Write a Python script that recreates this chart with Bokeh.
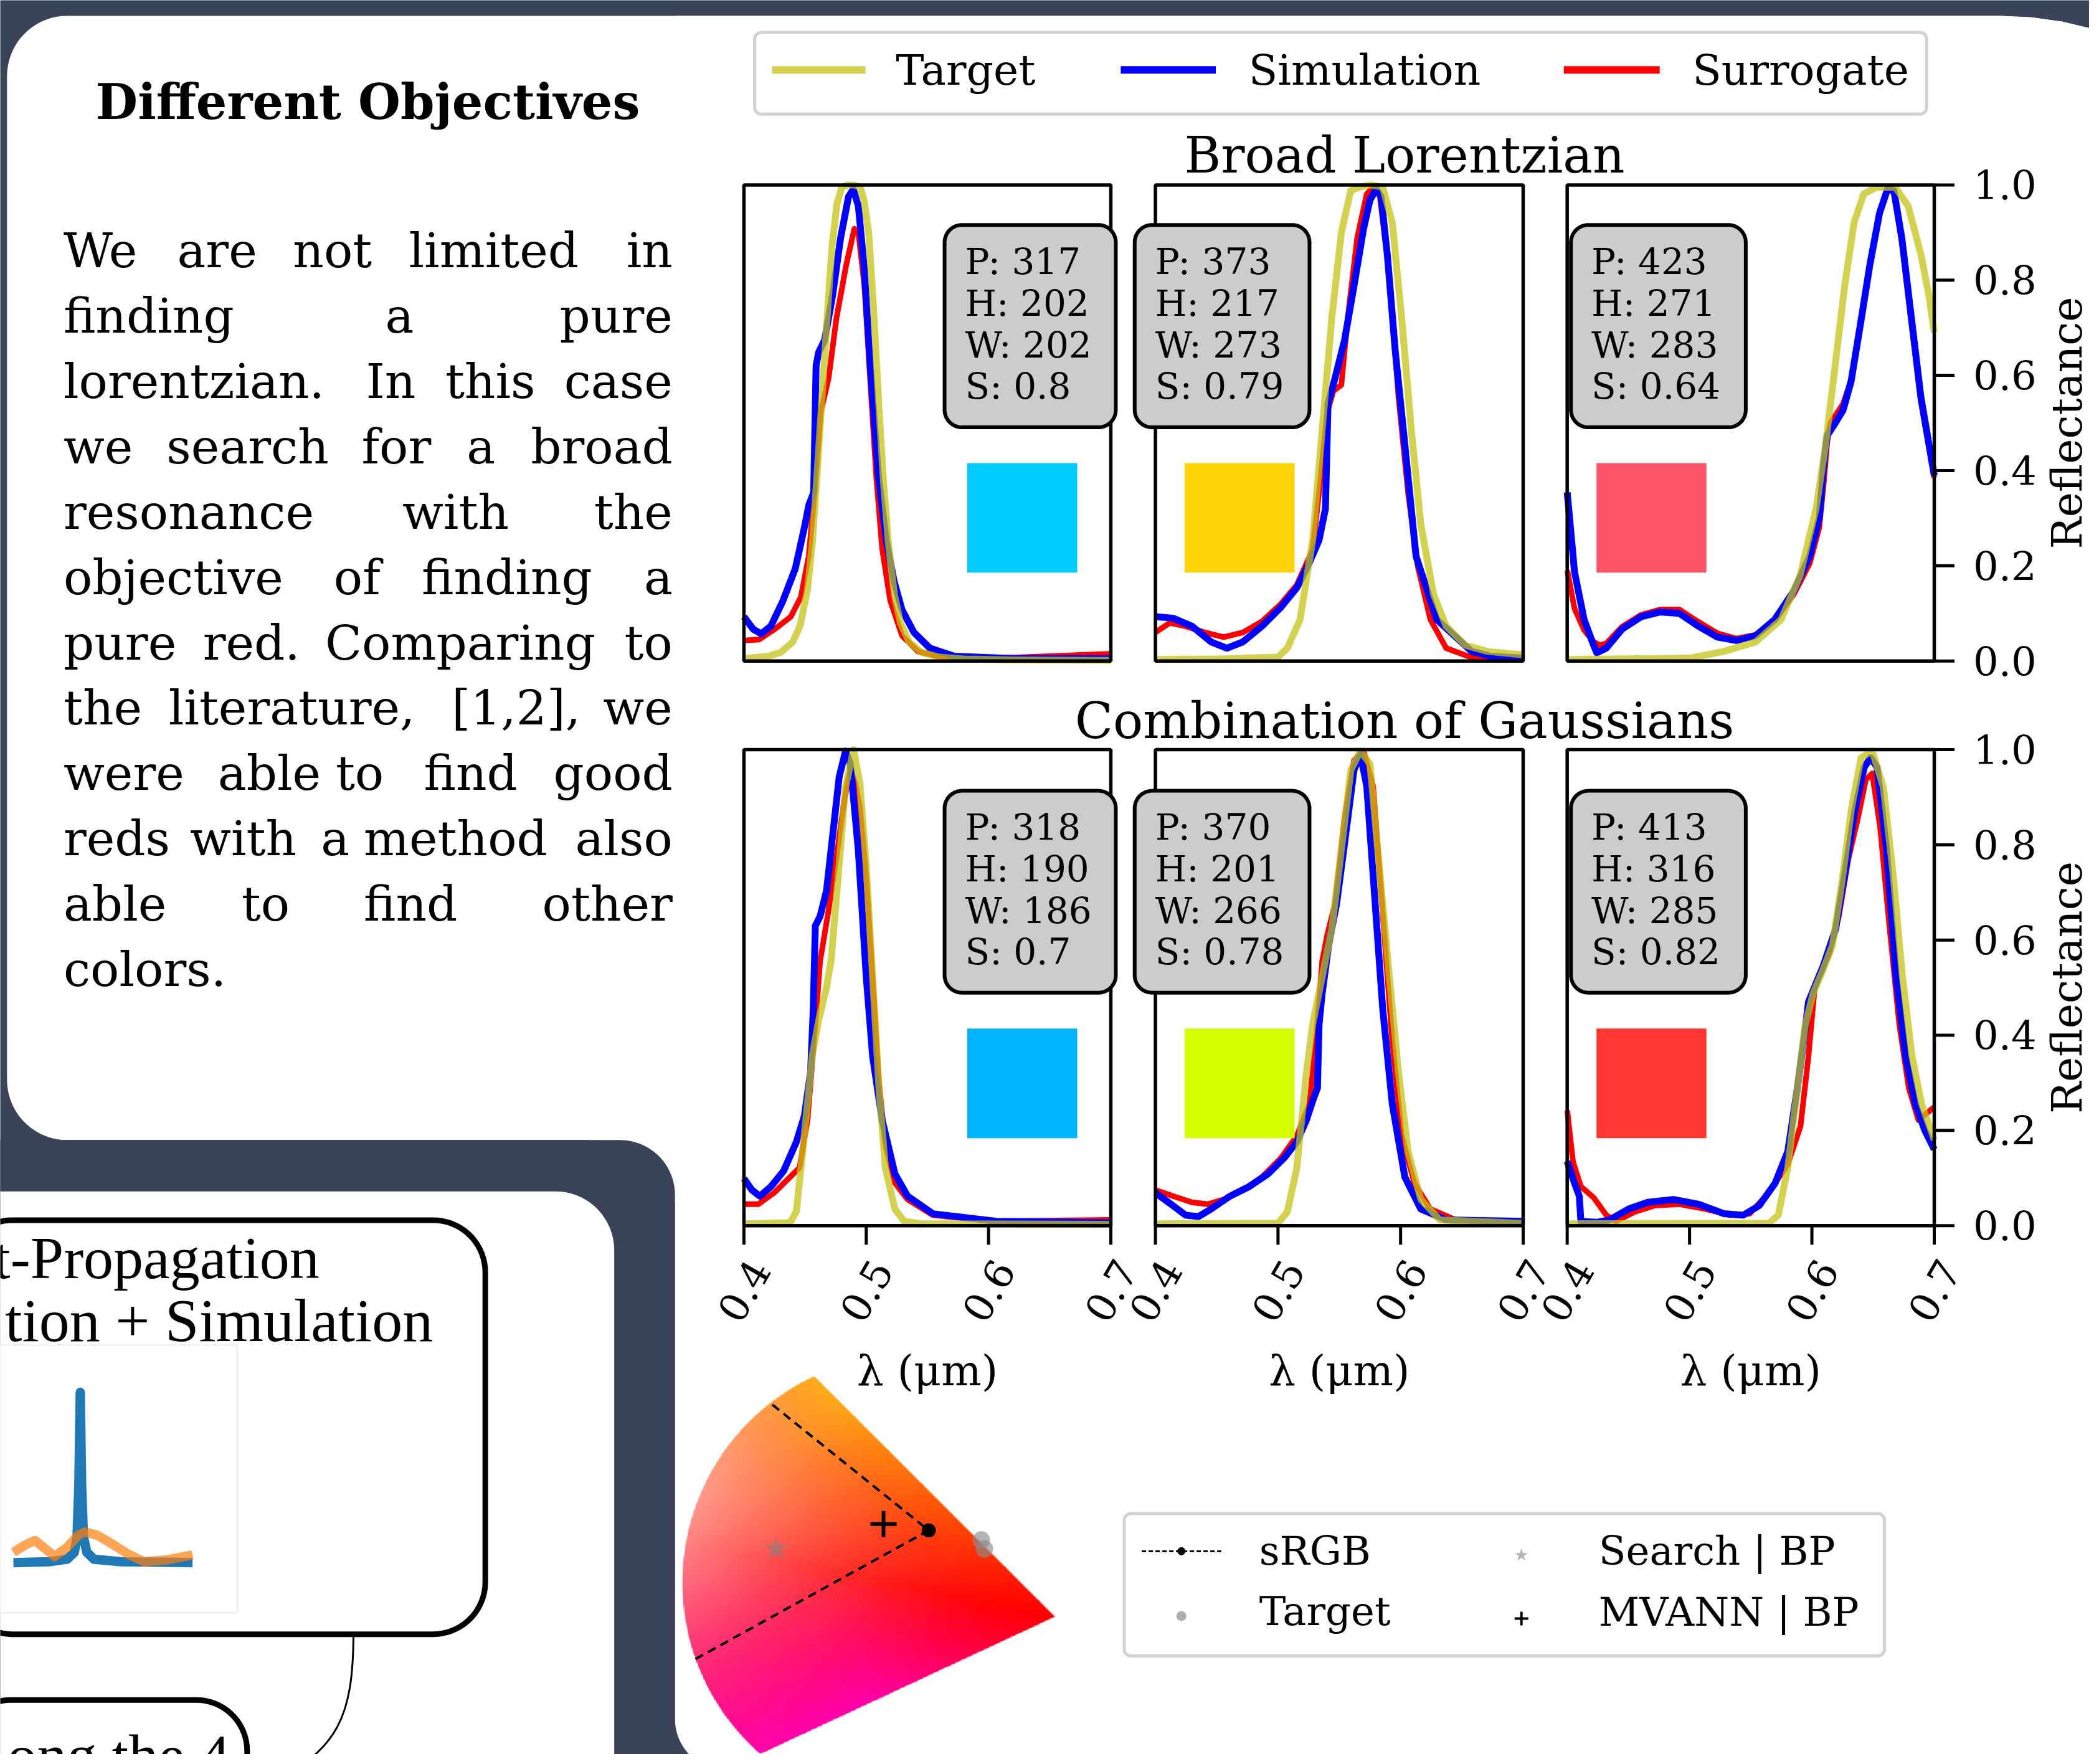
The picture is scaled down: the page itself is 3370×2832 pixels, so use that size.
import numpy as np
from bokeh.plotting import figure
from bokeh.models import Range1d
from bokeh.core.properties import value
from bokeh.embed import file_html
from bokeh.resources import INLINE

# ===================== DATA =====================
# Reflectance spectra: wavelength (um) and reflectance (0..1)
# --- Broad Lorentzian, panel 1 (P 317) ---
BL1_TARGET_WL = [0.400, 0.420, 0.430, 0.440, 0.446, 0.452, 0.456, 0.460, 0.464, 0.468, 0.472, 0.476, 0.480, 0.485, 0.490,
                 0.495, 0.498, 0.502, 0.506, 0.510, 0.514, 0.518, 0.523, 0.528, 0.535, 0.545, 0.560, 0.580, 0.620, 0.700]
BL1_TARGET_R = [0.005, 0.010, 0.018, 0.040, 0.075, 0.150, 0.250, 0.400, 0.560, 0.720, 0.870, 0.960, 0.995, 1.000, 1.000,
                0.995, 0.970, 0.900, 0.740, 0.550, 0.380, 0.250, 0.140, 0.080, 0.040, 0.018, 0.008, 0.004, 0.002, 0.001]
BL1_SIM_WL = [0.400, 0.4075, 0.414, 0.422, 0.432, 0.442, 0.450, 0.453, 0.457, 0.459, 0.461, 0.466, 0.4725, 0.479, 0.4855,
              0.4894, 0.4936, 0.4985, 0.5033, 0.510, 0.5163, 0.5228, 0.5293, 0.539, 0.552, 0.572, 0.620, 0.700]
BL1_SIM_R = [0.093, 0.067, 0.057, 0.073, 0.127, 0.194, 0.287, 0.327, 0.354, 0.620, 0.648, 0.674, 0.768, 0.888, 0.975,
             0.991, 0.955, 0.821, 0.620, 0.387, 0.254, 0.167, 0.107, 0.060, 0.027, 0.010, 0.005, 0.005]
BL1_SUR_WL = [0.400, 0.4124, 0.4253, 0.4383, 0.4465, 0.453, 0.4578, 0.4627, 0.4692, 0.4757, 0.4838, 0.4903, 0.4936,
              0.4985, 0.5033, 0.5082, 0.5131, 0.5196, 0.5293, 0.5423, 0.5618, 0.620, 0.700]
BL1_SUR_R = [0.043, 0.045, 0.067, 0.093, 0.134, 0.220, 0.354, 0.521, 0.594, 0.721, 0.834, 0.908, 0.900,
             0.788, 0.587, 0.387, 0.234, 0.127, 0.053, 0.020, 0.008, 0.007, 0.015]

# --- Broad Lorentzian, panel 2 (P 373) ---
BL2_TARGET_WL = [0.400, 0.450, 0.500, 0.5076, 0.518, 0.5283, 0.5361, 0.5439, 0.5517, 0.5594, 0.5672, 0.576, 0.5854,
                 0.5932, 0.6009, 0.6087, 0.6165, 0.6269, 0.6372, 0.6528, 0.671, 0.700]
BL2_TARGET_R = [0.003, 0.004, 0.008, 0.027, 0.087, 0.254, 0.487, 0.721, 0.900, 0.988, 0.996, 1.000, 0.995,
                0.921, 0.721, 0.487, 0.287, 0.140, 0.073, 0.033, 0.020, 0.013]
BL2_SIM_WL = [0.400, 0.4143, 0.4298, 0.4454, 0.4583, 0.4713, 0.4869, 0.5024, 0.5154, 0.5257, 0.5335, 0.5387, 0.540,
              0.5408, 0.5465, 0.5543, 0.562, 0.5698, 0.575, 0.5802, 0.5841, 0.5893, 0.5957, 0.6022, 0.6126, 0.6295,
              0.658, 0.6735, 0.700]
BL2_SIM_R = [0.093, 0.090, 0.073, 0.040, 0.027, 0.040, 0.073, 0.113, 0.154, 0.207, 0.254, 0.320, 0.454,
             0.540, 0.594, 0.674, 0.788, 0.908, 0.968, 0.991, 0.975, 0.850, 0.650, 0.487, 0.220, 0.087,
             0.020, 0.010, 0.006]
BL2_SUR_WL = [0.400, 0.4117, 0.4246, 0.4402, 0.4557, 0.4713, 0.4869, 0.5024, 0.5154, 0.5283, 0.5335, 0.540, 0.5452,
              0.5517, 0.5569, 0.5646, 0.5724, 0.5776, 0.5828, 0.5906, 0.5983, 0.6061, 0.6139, 0.6243, 0.6372, 0.658, 0.700]
BL2_SUR_R = [0.060, 0.080, 0.073, 0.060, 0.050, 0.060, 0.083, 0.120, 0.160, 0.234, 0.354, 0.521, 0.567,
             0.580, 0.721, 0.888, 0.981, 0.995, 0.981, 0.820, 0.554, 0.354, 0.200, 0.087, 0.027, 0.007, 0.005]

# --- Broad Lorentzian, panel 3 (P 423) ---
BL3_TARGET_WL = [0.400, 0.500, 0.528, 0.554, 0.5748, 0.5904, 0.6034, 0.6112, 0.619, 0.6268, 0.6345, 0.6423, 0.6527,
                 0.6683, 0.6787, 0.6891, 0.6956, 0.700]
BL3_TARGET_R = [0.003, 0.006, 0.020, 0.040, 0.087, 0.180, 0.320, 0.454, 0.621, 0.788, 0.921, 0.981, 0.995,
                0.995, 0.955, 0.854, 0.768, 0.690]
BL3_SIM_WL = [0.400, 0.406, 0.4138, 0.4216, 0.4242, 0.432, 0.4449, 0.4605, 0.4761, 0.4917, 0.5073, 0.5229, 0.5384,
              0.554, 0.5696, 0.5852, 0.5982, 0.606, 0.6099, 0.6125, 0.6177, 0.6255, 0.632, 0.6397, 0.6475, 0.6553,
              0.6618, 0.667, 0.6735, 0.6813, 0.6891, 0.700]
BL3_SIM_R = [0.354, 0.187, 0.087, 0.033, 0.017, 0.027, 0.067, 0.093, 0.103, 0.100, 0.073, 0.050, 0.043,
             0.053, 0.087, 0.147, 0.220, 0.300, 0.420, 0.474, 0.494, 0.527, 0.587, 0.708, 0.834, 0.941,
             0.991, 0.988, 0.888, 0.721, 0.554, 0.390]
BL3_SUR_WL = [0.400, 0.406, 0.4138, 0.4216, 0.4268, 0.432, 0.4449, 0.4605, 0.4761, 0.4917, 0.5073, 0.5229, 0.5384,
              0.554, 0.5696, 0.5852, 0.5982, 0.606, 0.6099, 0.6125, 0.6151, 0.6177, 0.6255, 0.632, 0.6397, 0.6475,
              0.6553, 0.6618, 0.667, 0.6735, 0.6813, 0.6891, 0.700]
BL3_SUR_R = [0.190, 0.110, 0.065, 0.040, 0.033, 0.037, 0.072, 0.097, 0.108, 0.108, 0.082, 0.058, 0.047,
             0.055, 0.085, 0.140, 0.205, 0.280, 0.380, 0.460, 0.500, 0.510, 0.540, 0.590, 0.710, 0.835,
             0.940, 0.990, 0.985, 0.880, 0.710, 0.545, 0.385]

# --- Combination of Gaussians, panel 1 (P 318) ---
CG1_TARGET_WL = [0.400, 0.4377, 0.4429, 0.448, 0.4558, 0.461, 0.4675, 0.4714, 0.4766, 0.483, 0.4896, 0.4948, 0.500,
                 0.5052, 0.5104, 0.5156, 0.5234, 0.531, 0.545, 0.700]
CG1_TARGET_R = [0.004, 0.006, 0.030, 0.155, 0.356, 0.430, 0.500, 0.560, 0.720, 0.920, 1.000, 0.930, 0.756,
                0.523, 0.289, 0.122, 0.035, 0.009, 0.004, 0.003]
CG1_SIM_WL = [0.400, 0.4065, 0.413, 0.4221, 0.4325, 0.4429, 0.4494, 0.4545, 0.4566, 0.4584, 0.4623, 0.4675, 0.4727,
              0.4779, 0.4831, 0.4870, 0.4935, 0.5000, 0.5052, 0.5130, 0.5234, 0.5338, 0.5545, 0.6065, 0.700]
CG1_SIM_R = [0.099, 0.075, 0.062, 0.082, 0.115, 0.176, 0.230, 0.323, 0.450, 0.630, 0.650, 0.703, 0.823,
             0.943, 0.997, 0.970, 0.790, 0.523, 0.356, 0.222, 0.109, 0.062, 0.025, 0.009, 0.006]
CG1_SUR_WL = [0.400, 0.4117, 0.4247, 0.4377, 0.4455, 0.452, 0.4584, 0.4623, 0.4688, 0.4766, 0.4818, 0.4870, 0.4909,
              0.4948, 0.5000, 0.5052, 0.5104, 0.5156, 0.5234, 0.5338, 0.5545, 0.6065, 0.700]
CG1_SUR_R = [0.045, 0.045, 0.069, 0.102, 0.122, 0.222, 0.423, 0.556, 0.656, 0.790, 0.890, 0.957, 0.930,
             0.880, 0.730, 0.520, 0.300, 0.170, 0.090, 0.055, 0.022, 0.009, 0.012]

# --- Combination of Gaussians, panel 2 (P 370) ---
CG2_TARGET_WL = [0.400, 0.500, 0.5076, 0.5154, 0.5232, 0.5283, 0.5361, 0.5439, 0.5517, 0.5594, 0.5672, 0.575, 0.5828,
                 0.5906, 0.5983, 0.6061, 0.6165, 0.632, 0.700]
CG2_TARGET_R = [0.004, 0.005, 0.029, 0.122, 0.322, 0.423, 0.523, 0.623, 0.790, 0.957, 0.997, 0.970, 0.750,
                0.530, 0.322, 0.156, 0.055, 0.012, 0.005]
CG2_SIM_WL = [0.400, 0.4143, 0.4246, 0.435, 0.4454, 0.4609, 0.4765, 0.492, 0.505, 0.5154, 0.5232, 0.5283, 0.5322,
              0.5335, 0.5361, 0.5413, 0.5478, 0.5543, 0.562, 0.5672, 0.5724, 0.5789, 0.5854, 0.5932, 0.6035, 0.6165,
              0.6372, 0.700]
CG2_SIM_R = [0.069, 0.042, 0.022, 0.019, 0.035, 0.062, 0.082, 0.109, 0.142, 0.176, 0.222, 0.262, 0.289,
             0.423, 0.489, 0.589, 0.676, 0.803, 0.957, 0.990, 0.923, 0.690, 0.456, 0.256, 0.102, 0.035,
             0.012, 0.009]
CG2_SUR_WL = [0.400, 0.4143, 0.4298, 0.4428, 0.4557, 0.4713, 0.4869, 0.5024, 0.5154, 0.5257, 0.5309, 0.5361, 0.540,
              0.5465, 0.5543, 0.562, 0.5698, 0.5776, 0.5854, 0.5932, 0.6009, 0.6113, 0.6243, 0.645, 0.700]
CG2_SUR_R = [0.075, 0.062, 0.049, 0.045, 0.055, 0.075, 0.102, 0.142, 0.189, 0.256, 0.389, 0.556, 0.609,
             0.676, 0.856, 0.977, 0.997, 0.923, 0.656, 0.389, 0.189, 0.089, 0.035, 0.012, 0.009]

# --- Combination of Gaussians, panel 3 (P 413) ---
CG3_TARGET_WL = [0.400, 0.5647, 0.5725, 0.5803, 0.5881, 0.5946, 0.6011, 0.6089, 0.6168, 0.6246, 0.6324, 0.6402,
                 0.6493, 0.6584, 0.6662, 0.674, 0.6818, 0.6896, 0.700]
CG3_TARGET_R = [0.004, 0.005, 0.022, 0.122, 0.289, 0.423, 0.489, 0.536, 0.589, 0.723, 0.877, 0.983,
                0.997, 0.921, 0.743, 0.523, 0.356, 0.256, 0.180]
CG3_SIM_WL = [0.400, 0.406, 0.4099, 0.4112, 0.4242, 0.4346, 0.4502, 0.4658, 0.4867, 0.5075, 0.5283, 0.5439, 0.5569,
              0.5699, 0.5803, 0.5881, 0.5933, 0.5972, 0.6024, 0.6089, 0.6194, 0.6272, 0.635, 0.6428, 0.648, 0.6532,
              0.661, 0.6688, 0.6766, 0.6845, 0.6923, 0.700]
CG3_SIM_R = [0.135, 0.089, 0.062, 0.009, 0.007, 0.012, 0.035, 0.049, 0.055, 0.045, 0.025, 0.022, 0.042,
             0.089, 0.156, 0.289, 0.389, 0.470, 0.503, 0.543, 0.623, 0.743, 0.870, 0.963, 0.983, 0.963,
             0.790, 0.523, 0.356, 0.256, 0.200, 0.160]
CG3_SUR_WL = [0.400, 0.4047, 0.4112, 0.4216, 0.432, 0.4398, 0.4554, 0.4711, 0.4919, 0.5127, 0.5335, 0.5491, 0.5647,
              0.5803, 0.5907, 0.5972, 0.6024, 0.6063, 0.6141, 0.622, 0.6298, 0.6376, 0.6441, 0.6493, 0.6558, 0.6636,
              0.6714, 0.6792, 0.687, 0.700]
CG3_SUR_R = [0.242, 0.135, 0.082, 0.059, 0.022, 0.009, 0.029, 0.042, 0.045, 0.035, 0.022, 0.025, 0.069,
             0.129, 0.209, 0.356, 0.503, 0.530, 0.570, 0.650, 0.770, 0.856, 0.937, 0.950, 0.836, 0.623,
             0.423, 0.289, 0.222, 0.249]

BL_LABELS = [["P: 317", "H: 202", "W: 202", "S: 0.8"],
             ["P: 373", "H: 217", "W: 273", "S: 0.79"],
             ["P: 423", "H: 271", "W: 283", "S: 0.64"]]
CG_LABELS = [["P: 318", "H: 190", "W: 186", "S: 0.7"],
             ["P: 370", "H: 201", "W: 266", "S: 0.78"],
             ["P: 413", "H: 316", "W: 285", "S: 0.82"]]
BL_COLORS = ["#00ccff", "#ffd305", "#ff5569"]
CG_COLORS = ["#00b2ff", "#d4ff00", "#ff3732"]
ROW_TITLES = ["Broad Lorentzian", "Combination of Gaussians"]
SERIES_NAMES = ["Target", "Simulation", "Surrogate"]

X_TICKS = [0.4, 0.5, 0.6, 0.7]
X_TICK_LABELS = ["0.4", "0.5", "0.6", "0.7"]
Y_TICKS = [0.0, 0.2, 0.4, 0.6, 0.8, 1.0]
Y_TICK_LABELS = ["0.0", "0.2", "0.4", "0.6", "0.8", "1.0"]

# Chromaticity (hue/chroma plane, chroma units, white point at origin)
SRGB_U = [-60.4, 8.4, -95.3]
SRGB_V = [78.3, 23.0, -34.2]
SRGB_VERTEX_U = [8.4]
SRGB_VERTEX_V = [23.0]
CHROMA_TARGET_U = [31.5, 32.9]
CHROMA_TARGET_V = [18.8, 14.9]
SEARCH_BP_U = [-58.7]
SEARCH_BP_V = [14.9]
MVANN_BP_U = [-11.5]
MVANN_BP_V = [25.8]
FAN_APEX = (63.7, -15.0)
FAN_THETA = (135.0, 205.0)
FAN_RADIUS = 100.0

# Thumbnail spectra in the flow-chart fragment (normalised units)
THUMB_BLUE_X = [0.00, 0.20, 0.30, 0.34, 0.355, 0.365, 0.373, 0.381, 0.391, 0.41, 0.45, 0.60, 1.00]
THUMB_BLUE_Y = [0.00, 0.005, 0.02, 0.06, 0.15, 0.45, 1.00, 0.45, 0.15, 0.06, 0.02, 0.005, 0.00]
THUMB_ORANGE_X = [0.00, 0.06, 0.12, 0.18, 0.23, 0.30, 0.36, 0.40, 0.47, 0.55, 0.64, 0.73, 0.85, 1.00]
THUMB_ORANGE_Y = [0.06, 0.10, 0.13, 0.08, 0.036, 0.09, 0.16, 0.18, 0.16, 0.11, 0.05, 0.005, 0.015, 0.045]

PARA_WORDS = [["We", "are", "not", "limited", "in"],
              ["finding", "a", "pure"],
              ["lorentzian.", "In", "this", "case"],
              ["we", "search", "for", "a", "broad"],
              ["resonance", "with", "the"],
              ["objective", "of", "finding", "a"],
              ["pure", "red.", "Comparing", "to"],
              ["the", "literature,", "[1,2],", "we"],
              ["were", "able", "to", "find", "good"],
              ["reds", "with", "a", "method", "also"],
              ["able", "to", "find", "other"],
              ["colors."]]

# ===================== LAYOUT (page units = reference px / 2.149) =====================
SCALE = 3370.0 / 1568.0
W, H = 3354, 2816
X0 = 0.0
X1 = X0 + W / SCALE
Y0 = 0.0
Y1 = Y0 + H / SCALE

DARK = "#3a4458"
PANEL_X = [(555.5, 829.6), (862.9, 1137.6), (1170.5, 1444.7)]
PANEL_Y = [(137.9, 493.5), (559.7, 915.3)]
BOX_X = [(705.4, 833.3), (847.4, 978.0), (1173.3, 1303.9)]
BOX_Y = [(167.8, 319.0), (590.5, 741.3)]
SQ_X = [(722.3, 804.5), (884.8, 966.9), (1192.4, 1274.5)]
SQ_Y = [(345.7, 427.5), (768.1, 850.0)]
BOX_BASE = [205.1, 236.4, 267.5, 298.3]
ROW_SHIFT = 422.3
PARA_X = [[47.2, 132.1, 218.6, 305.2, None],
          [47.2, 287.5, None],
          [47.2, 273.1, 332.4, None],
          [47.2, 124.1, 269.9, 348.4, None],
          [47.2, 300.3, None],
          [47.2, 249.1, 314.8, None],
          [47.2, 151.3, 242.7, None],
          [47.2, 125.7, 337.2, None],
          [47.2, 162.5, 250.5, 316.4, None],
          [47.2, 141.7, 239.5, 271.5, None],
          [47.2, 180.2, 271.5, None],
          [47.2]]
PARA_RIGHT = 502.2

SERIF = "DejaVu Serif"
LSERIF = "Liberation Serif"

p = figure(width=W, height=H, x_range=Range1d(X0, X1), y_range=Range1d(Y1, Y0),
           output_backend="svg", toolbar_location=None, x_axis_location=None, y_axis_location=None,
           min_border=0, background_fill_color=DARK, border_fill_color=DARK, outline_line_color=None)
p.grid.grid_line_color = None

# extra ranges so that each panel's own data domain maps onto its place on the page
xr, yr = {}, {}
for r in range(2):
    t, b = PANEL_Y[r]
    for c in range(3):
        a, e = PANEL_X[c]
        xr[f"x{r}{c}"] = Range1d(0.4 + (X0 - a) / (e - a) * 0.3, 0.4 + (X1 - a) / (e - a) * 0.3)
        yr[f"y{r}{c}"] = Range1d((b - Y1) / (b - t), (b - Y0) / (b - t))
CX, CY, CS = 679.3, 1182.0, 1.698
xr["cx"] = Range1d((X0 - CX) / CS, (X1 - CX) / CS)
yr["cy"] = Range1d(-(Y1 - CY) / CS, -(Y0 - CY) / CS)
TX0, TXW, TY0, TYH = 9.8, 133.8, 1167.0, 127.2
xr["tx"] = Range1d((X0 - TX0) / TXW, (X1 - TX0) / TXW)
yr["ty"] = Range1d((TY0 - Y1) / TYH, (TY0 - Y0) / TYH)
p.extra_x_ranges = xr
p.extra_y_ranges = yr


def rrect(x0, y0, x1, y1, r, n=18):
    if not isinstance(r, (tuple, list)):
        r = (r, r, r, r)
    tl, tr, br, bl = r
    xs, ys = [], []
    for cx, cy, rad, a0, a1 in [(x0 + tl, y0 + tl, tl, np.pi, 1.5 * np.pi),
                                (x1 - tr, y0 + tr, tr, 1.5 * np.pi, 2 * np.pi),
                                (x1 - br, y1 - br, br, 0.0, 0.5 * np.pi),
                                (x0 + bl, y1 - bl, bl, 0.5 * np.pi, np.pi)]:
        tt = np.linspace(a0, a1, n)
        xs.extend(cx + rad * np.cos(tt))
        ys.extend(cy + rad * np.sin(tt))
    return list(xs), list(ys)


def txt(x, y, s, size, align="left", baseline="middle", font=SERIF, style="normal",
        angle=0, color="black", xn="default", yn="default"):
    p.text(x=[x], y=[y], text=[s], text_font=value(font), text_font_size=f"{size}px",
           text_font_style=style, text_align=align, text_baseline=baseline, angle=angle,
           angle_units="deg", text_color=color, x_range_name=xn, y_range_name=yn)


def txt_b(x, ybase, s, size, align="left", font=SERIF, style="normal", cap=0.729):
    """place text by its baseline (page units) using a middle anchor at half cap height"""
    txt(x, ybase - 0.5 * cap * size / SCALE, s, size, align=align, font=font, style=style)


# ===================== background cards =====================
xs, ys = rrect(5.0, 11.6, 1744.0, 851.4, (45, 250, 40, 45))
p.patch(xs, ys, fill_color="white", line_color=None)
xs, ys = rrect(504.0, 11.6, 1744.0, 1322.0, (0, 250, 40, 38))
p.patch(xs, ys, fill_color="white", line_color=None)
p.quad(left=[440.0], right=[520.0], top=[830.0], bottom=[900.0], fill_color="white", line_color=None)
xs, ys = rrect(-120.0, 851.4, 504.0, 1420.0, (0, 41, 0, 0))
p.patch(xs, ys, fill_color=DARK, line_color=None)
xs, ys = rrect(-120.0, 889.7, 458.6, 1420.0, (0, 44, 0, 0))
p.patch(xs, ys, fill_color="white", line_color=None)

# ===================== left text =====================
txt_b(274.5, 89.2, "Different Objectives", 78, align="center", style="bold")
for i, words in enumerate(PARA_WORDS):
    yb = 200.2 + 48.8 * i
    for w, xw in zip(words, PARA_X[i]):
        if xw is None:
            txt_b(PARA_RIGHT, yb, w, 77, align="right")
        else:
            txt_b(xw, yb, w, 77)

# ===================== flow-chart fragment =====================
xs, ys = rrect(-30.0, 911.2, 362.3, 1220.5, 39)
p.patch(xs, ys, fill_color="white", line_color="black", line_width=9)
p.quad(left=[-10.0], right=[177.0], top=[1004.5], bottom=[1204.5], fill_color="white",
       line_color="#ececec", line_width=2)
p.line(THUMB_BLUE_X, THUMB_BLUE_Y, line_color="#1f77b4", line_width=15, line_join="round",
       x_range_name="tx", y_range_name="ty")
p.line(THUMB_ORANGE_X, THUMB_ORANGE_Y, line_color="#ff7f0e", line_alpha=0.7, line_width=15,
       line_join="round", x_range_name="tx", y_range_name="ty")
txt_b(238.3, 954.0, "t-Propagation", 96, align="right", font=LSERIF, cap=0.66)
txt_b(323.2, 1001.4, "tion + Simulation", 98, align="right", font=LSERIF, cap=0.66)
p.bezier(x0=[263.8], y0=[1221.0], x1=[205.0], y1=[1330.0], cx0=[263.5], cy0=[1282.0],
         cx1=[252.0], cy1=[1306.0], line_color="black", line_width=3)
xs, ys = rrect(-30.0, 1269.6, 184.4, 1420.0, 38)
p.patch(xs, ys, fill_color="white", line_color="black", line_width=9)
txt_b(171.4, 1326.0, "ong the 4", 96, align="right", font=LSERIF, cap=0.66)

# ===================== top legend =====================
xs, ys = rrect(563.5, 24.0, 1439.0, 85.0, 5)
p.patch(xs, ys, fill_color="white", line_color="#d2d2d2", line_width=5)
LEG_X = [(576.5, 646.4, 669.0), (837.0, 908.0, 932.5), (1168.0, 1239.6, 1264.0)]
LEG_STYLE = [dict(line_color="#c3c316", line_alpha=0.75, line_width=12),
             dict(line_color="#0000ff", line_width=12),
             dict(line_color="#ff0000", line_width=12)]
for (la, lb, tx), st, nm in zip(LEG_X, LEG_STYLE, SERIES_NAMES):
    p.line([la, lb], [52.0, 52.0], **st)
    txt_b(tx, 63.6, nm, 68)

# ===================== spectral panels =====================
PANELS = [
    (0, 0, BL1_TARGET_WL, BL1_TARGET_R, BL1_SIM_WL, BL1_SIM_R, BL1_SUR_WL, BL1_SUR_R),
    (0, 1, BL2_TARGET_WL, BL2_TARGET_R, BL2_SIM_WL, BL2_SIM_R, BL2_SUR_WL, BL2_SUR_R),
    (0, 2, BL3_TARGET_WL, BL3_TARGET_R, BL3_SIM_WL, BL3_SIM_R, BL3_SUR_WL, BL3_SUR_R),
    (1, 0, CG1_TARGET_WL, CG1_TARGET_R, CG1_SIM_WL, CG1_SIM_R, CG1_SUR_WL, CG1_SUR_R),
    (1, 1, CG2_TARGET_WL, CG2_TARGET_R, CG2_SIM_WL, CG2_SIM_R, CG2_SUR_WL, CG2_SUR_R),
    (1, 2, CG3_TARGET_WL, CG3_TARGET_R, CG3_SIM_WL, CG3_SIM_R, CG3_SUR_WL, CG3_SUR_R),
]
for r, c, twl, tr_, swl, sr, uwl, ur in PANELS:
    xn, yn = f"x{r}{c}", f"y{r}{c}"
    p.line(uwl, ur, line_color="#ff0000", line_width=9, line_join="round", x_range_name=xn, y_range_name=yn)
    p.line(swl, sr, line_color="#0000ff", line_width=11, line_join="round", x_range_name=xn, y_range_name=yn)
    p.line(twl, tr_, line_color="#c3c316", line_alpha=0.75, line_width=11, line_join="round",
           x_range_name=xn, y_range_name=yn)
    p.quad(left=[0.4], right=[0.7], bottom=[0.0], top=[1.0], fill_color=None, line_color="black",
           line_width=5.5, x_range_name=xn, y_range_name=yn)

for r in range(2):
    t, b = PANEL_Y[r]
    txt_b(1049.0, 129.5 + r * ROW_SHIFT, ROW_TITLES[r], 80, align="center")
    labels = BL_LABELS if r == 0 else CG_LABELS
    colors = BL_COLORS if r == 0 else CG_COLORS
    for c in range(3):
        bx0, bx1 = BOX_X[c]
        by0, by1 = BOX_Y[r]
        xs, ys = rrect(bx0, by0, bx1, by1, 13)
        p.patch(xs, ys, fill_color="#cccccc", line_color="black", line_width=6)
        for k, s in enumerate(labels[c]):
            txt_b(bx0 + 15.3, BOX_BASE[k] + r * ROW_SHIFT, s, 58)
        sx0, sx1 = SQ_X[c]
        sy0, sy1 = SQ_Y[r]
        p.quad(left=[sx0], right=[sx1], top=[sy0], bottom=[sy1], fill_color=colors[c], line_color=None)
    # right-hand reflectance axis on the last column
    xn, yn = f"x{r}2", f"y{r}2"
    p.segment(x0=[0.7] * len(Y_TICKS), y0=Y_TICKS, x1=[0.7165] * len(Y_TICKS), y1=Y_TICKS,
              line_color="black", line_width=5, x_range_name=xn, y_range_name=yn)
    p.text(x=[0.7318] * len(Y_TICKS), y=Y_TICKS, text=Y_TICK_LABELS, text_font=value(SERIF),
           text_font_size="64px", text_align="left", text_baseline="middle",
           x_range_name=xn, y_range_name=yn)
    txt(0.8085, 0.5, "Reflectance", 68, align="center", baseline="middle", angle=90, xn=xn, yn=yn)

# bottom-row wavelength axes
for c in range(3):
    xn, yn = f"x1{c}", f"y1{c}"
    p.segment(x0=X_TICKS, y0=[0.0] * 4, x1=X_TICKS, y1=[-0.04] * 4, line_color="black", line_width=5,
              x_range_name=xn, y_range_name=yn)
    p.text(x=X_TICKS, y=[-0.1367] * 4, text=X_TICK_LABELS, text_font=value(SERIF), text_font_size="64px",
           text_align="center", text_baseline="middle", angle=60, angle_units="deg",
           x_range_name=xn, y_range_name=yn)
    txt(0.55, -0.305, "λ (μm)", 68, align="center", xn=xn, yn=yn)

# ===================== chromaticity fan =====================
U0, U1, V0, V1 = -101.0, 65.0, -78.0, 101.0
NX, NY = 460, 496
us = U0 + (np.arange(NX) + 0.5) * (U1 - U0) / NX
vs = V0 + (np.arange(NY) + 0.5) * (V1 - V0) / NY
UU, VV = np.meshgrid(us, vs)
du, dv = UU - FAN_APEX[0], VV - FAN_APEX[1]
theta = np.degrees(np.arctan2(dv, du)) % 360.0
duv = np.hypot(du, dv)
dpx = duv * CS
rad_o = np.hypot(UU, VV)
a_c = np.clip((FAN_RADIUS - rad_o) / 0.4 + 0.5, 0, 1)
a_1 = np.clip(duv * np.radians(theta - FAN_THETA[0]) / 0.4 + 0.5, 0, 1)
a_2 = np.clip(duv * np.radians(FAN_THETA[1] - theta) / 0.4 + 0.5, 0, 1)
alpha = a_c * a_1 * a_2
tt = np.clip((theta - FAN_THETA[0]) / (FAN_THETA[1] - FAN_THETA[0]), 0, 1)
hue = np.where(tt < 0.48, 38.0 * (1 - tt / 0.48) * np.clip(dpx / 230.0, 0, 1),
               360.0 - 40.0 * (np.clip(tt - 0.48, 0, 1) / 0.52) ** 0.9 * np.clip(dpx / 150.0, 0, 1))
sat = np.clip(1 - 0.52 * (dpx / 275.0) ** 2 * np.exp(-((theta - 163.0) / 24.0) ** 2), 0, 1)
h6 = (hue % 360.0) / 60.0
hi = np.floor(h6).astype(int) % 6
f = h6 - np.floor(h6)
one = np.ones_like(sat)
pp = 1 - sat
qq = 1 - sat * f
t3 = 1 - sat * (1 - f)
rr = np.choose(hi, [one, qq, pp, pp, t3, one])
gg = np.choose(hi, [t3, one, one, qq, pp, pp])
bb = np.choose(hi, [pp, pp, t3, one, one, qq])
img = np.zeros((NY, NX), dtype=np.uint32)
view = img.view(dtype=np.uint8).reshape((NY, NX, 4))
view[:, :, 0] = (rr * 255).astype(np.uint8)
view[:, :, 1] = (gg * 255).astype(np.uint8)
view[:, :, 2] = (bb * 255).astype(np.uint8)
view[:, :, 3] = (alpha * 255).astype(np.uint8)
p.image_rgba(image=[img], x=U0, y=V0, dw=U1 - U0, dh=V1 - V0, x_range_name="cx", y_range_name="cy")

p.line(SRGB_U, SRGB_V, line_color="black", line_width=4, line_dash="14 9", x_range_name="cx", y_range_name="cy")
p.scatter(SRGB_VERTEX_U, SRGB_VERTEX_V, marker="circle", size=22, fill_color="black", line_color="black",
          x_range_name="cx", y_range_name="cy")
p.scatter(SEARCH_BP_U, SEARCH_BP_V, marker="star", size=40, fill_color="#808080", fill_alpha=0.6,
          line_color=None, x_range_name="cx", y_range_name="cy")
p.scatter(CHROMA_TARGET_U, CHROMA_TARGET_V, marker="circle", size=28, fill_color="#8c8c8c", fill_alpha=0.65,
          line_color=None, x_range_name="cx", y_range_name="cy")
p.scatter(MVANN_BP_U, MVANN_BP_V, marker="cross", size=42, line_color="black", line_width=6,
          x_range_name="cx", y_range_name="cy")

# chromaticity legend
xs, ys = rrect(839.6, 1130.4, 1407.5, 1236.7, 5)
p.patch(xs, ys, fill_color="white", line_color="#d2d2d2", line_width=5)
p.line([852.7, 912.0], [1158.5, 1158.5], line_color="black", line_width=3, line_dash="7 4")
p.scatter([882.3], [1158.5], marker="circle", size=12, fill_color="black", line_color="black")
p.scatter([882.3], [1206.9], marker="circle", size=16, fill_color="#8c8c8c", fill_alpha=0.7, line_color=None)
p.scatter([1136.3], [1161.4], marker="star", size=22, fill_color="#808080", fill_alpha=0.6, line_color=None)
p.scatter([1136.3], [1208.8], marker="cross", size=22, line_color="black", line_width=4)
txt_b(940.4, 1169.1, "sRGB", 64)
txt_b(940.4, 1214.5, "Target", 64)
txt_b(1194.0, 1169.1, "Search | BP", 64)
txt_b(1194.0, 1214.9, "MVANN | BP", 64)

open("out.html", "w").write(file_html(p, INLINE))
